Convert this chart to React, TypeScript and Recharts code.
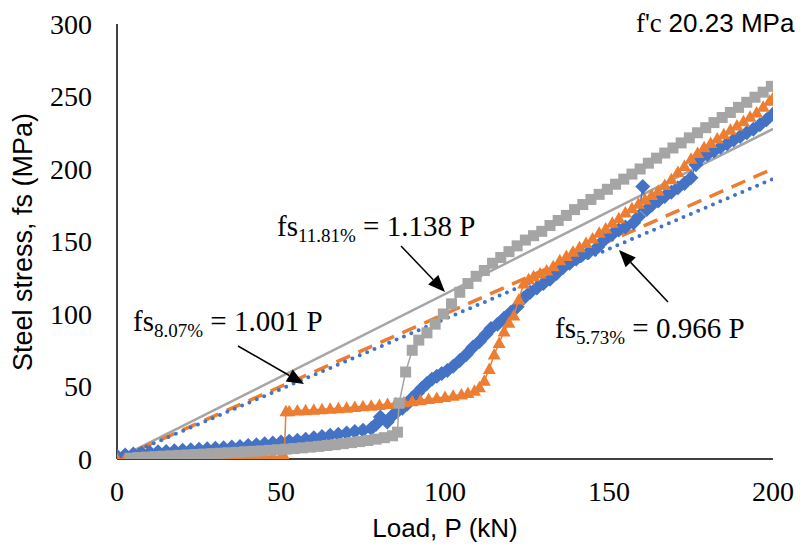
import React from "react";
import { ComposedChart, Scatter, Line, XAxis, YAxis } from "recharts";

const BLUE = "#4472C4";
const ORANGE = "#ED7D31";
const GRAY = "#A5A5A5";

const xTicks = [0, 50, 100, 150, 200];
const yTicks = [0, 50, 100, 150, 200, 250, 300];

// [Load P (kN), steel stress fs (MPa)]
const bluePts: [number, number][] = [
  [0, 2], [2.5, 2.8], [5, 3.4], [7.5, 4], [10, 4.5], [12.5, 5], [15, 5.2], [17.5, 5.7], [20, 6], [22.5, 6.3],
  [25, 6.7], [27.5, 7], [30, 7.5], [32.5, 7.8], [35, 8.3], [37.5, 8.7], [40, 9.3], [42.5, 9.8], [45, 10.5], [47.5, 11],
  [50, 11.7], [52.5, 12.2], [55, 13], [57.5, 13.7], [60, 14.6], [62.5, 15.5], [65, 16.3], [67.5, 17.1], [70, 18], [72.5, 18.9],
  [75, 19.8], [77.5, 21], [79, 24], [80.3, 29], [82.4, 25.5], [84, 30], [85.5, 33], [87, 35], [88.5, 38], [90, 42],
  [91.6, 45.5], [93, 49], [94.5, 52], [96, 55], [97.5, 57], [99, 59], [100.7, 61], [102.5, 64], [104.5, 68], [106.5, 72],
  [108.5, 77], [110.5, 81], [112.5, 86], [114, 90], [116, 93], [118, 97], [120, 101], [122, 105], [124, 111], [126, 115],
  [128, 118], [130, 121], [132, 124], [134, 128], [136, 132], [138, 135], [140, 138], [142, 141], [144, 143], [146.5, 146],
  [148.5, 151], [151, 155], [153, 158], [155, 160], [157.5, 163], [159, 167], [160.3, 188], [161.5, 172], [163, 175], [165, 178],
  [167, 181], [169, 184], [171, 187], [173, 190], [175, 194], [176.5, 203], [178, 208], [180, 210], [182, 212.5], [184, 215],
  [186, 217.5], [188, 220], [190, 222.5], [192, 225], [194, 227.5], [196, 230.5], [198, 234], [200, 238],
];

const orangePts: [number, number][] = [
  [0, 0], [2.5, 0.2], [5, 0.3], [7.5, 0.5], [10, 0.6], [12.5, 0.6], [15, 0.8], [17.5, 0.9], [20, 1], [22.5, 1.1],
  [25, 1.2], [27.5, 1.2], [30, 1.3], [32.5, 1.4], [35, 1.5], [37.5, 1.5], [40, 1.6], [42.5, 1.7], [45, 1.8], [47.5, 1.8],
  [50, 1.9], [51, 2], [51.5, 33], [52.5, 33], [55, 33.4], [57.5, 33.7], [60, 34], [62.5, 34.3], [65, 34.7], [67.5, 35],
  [70, 35.4], [72.5, 35.8], [75, 36.3], [77.5, 36.8], [80, 37.3], [82.5, 37.9], [85, 38.5], [87.5, 39.1], [90, 39.8], [92.5, 40.5],
  [95, 41.3], [97.5, 42], [100, 42.8], [102.5, 43.6], [105, 44.5], [107, 45.5], [109, 47], [110.5, 49.5], [112, 54], [113.5, 62],
  [115, 72], [116.5, 80], [118, 88], [119.5, 94], [121, 99], [122.5, 110], [124, 121], [125.5, 124], [127, 126], [129, 128],
  [131, 130], [133, 133], [135, 137], [137, 140], [139, 143], [141, 146], [143, 149], [145, 152], [147, 156], [149, 159],
  [151, 163], [153, 166], [155, 170], [157, 173], [159, 176], [161, 179], [163, 182], [165, 185], [167, 189], [169, 193],
  [171, 198], [173, 202], [175, 207], [177, 211], [179, 215], [181, 218], [183, 221], [185, 224], [187, 227], [189, 230],
  [191, 233], [193, 236], [195, 239], [197, 243], [199, 247], [200, 249],
];

const grayPts: [number, number][] = [
  [4, 0.5], [6.5, 1], [9, 1.3], [11.5, 1.6], [14, 1.9], [16.5, 2.2], [19, 2.5], [21.5, 2.8], [24, 3.1], [26.5, 3.4],
  [29, 3.7], [31.5, 4], [34, 4.3], [36.5, 4.6], [39, 5], [41.5, 5.3], [44, 5.6], [46.5, 6], [49, 6.4], [51.5, 6.8],
  [54, 7.2], [56.5, 7.7], [59, 8.2], [61.5, 8.7], [64, 9.3], [66.5, 9.9], [69, 10.6], [71.5, 11.3], [74, 12], [76.5, 12.8],
  [79, 13.7], [81.5, 14.7], [84, 16], [85.5, 18.5], [86, 38.5], [88, 60], [90, 75], [92, 82], [94.5, 87], [97, 93],
  [99.5, 100], [102, 107], [104.5, 115], [107, 121], [109.5, 126], [112, 130], [114.5, 135], [117, 139], [119.5, 143], [122, 147],
  [124.5, 151], [127, 154], [129.5, 157], [132, 161], [134.5, 164.5], [137, 168], [139.5, 172], [142, 175.5], [144.5, 179], [147, 182.5],
  [149.5, 186], [152, 189.5], [154.5, 193], [157, 196.5], [159.5, 200], [162, 204], [164.5, 207.5], [167, 211], [169.5, 214.5], [172, 218],
  [174.5, 221.5], [177, 225], [179.5, 228.5], [182, 232], [184.5, 235.5], [187, 239], [189.5, 242.5], [192, 246], [194.5, 249.5], [197, 253],
  [199.5, 257],
];

// trend lines fs = k P, endpoints at P = 0 and P = 200
const trendGray: [number, number][] = [[0, 0], [200, 227.6]];
const trendOrange: [number, number][] = [[0, 0], [200, 200.2]];
const trendBlue: [number, number][] = [[0, 0], [200, 193.2]];

const toRows = (pts: [number, number][]) => pts.map(([x, y]) => ({ x, y }));

const SERIF = "'Times New Roman', 'Liberation Serif', serif";
const SANS = "Arial, 'Liberation Sans', sans-serif";

const DiamondShape = (p: any) => {
  const { cx, cy } = p;
  const r = 7.5;
  return <path d={`M${cx},${cy - r}L${cx + r},${cy}L${cx},${cy + r}L${cx - r},${cy}Z`} fill={BLUE} />;
};
const TriangleShape = (p: any) => {
  const { cx, cy } = p;
  return <path d={`M${cx},${cy - 6.5}L${cx + 6.5},${cy + 5}L${cx - 6.5},${cy + 5}Z`} fill={ORANGE} />;
};
const SquareShape = (p: any) => {
  const { cx, cy } = p;
  return <rect x={cx - 5.5} y={cy - 5.5} width={11} height={11} fill={GRAY} />;
};

const Arrow = ({ x1, y1, x2, y2 }: { x1: number; y1: number; x2: number; y2: number }) => {
  const dx = x2 - x1;
  const dy = y2 - y1;
  const len = Math.sqrt(dx * dx + dy * dy);
  const ux = dx / len;
  const uy = dy / len;
  const hl = 17;
  const hw = 7;
  const bx = x2 - ux * hl;
  const by = y2 - uy * hl;
  return (
    <g>
      <line x1={x1} y1={y1} x2={bx} y2={by} stroke="#000" strokeWidth={1.5} />
      <path d={`M${x2},${y2}L${bx - uy * hw},${by + ux * hw}L${bx + uy * hw},${by - ux * hw}Z`} fill="#000" />
    </g>
  );
};

const Eq = ({ x, y, sub, rhs }: { x: number; y: number; sub: string; rhs: string }) => (
  <text x={x} y={y} fontFamily={SERIF} fontSize={29} fill="#000">
    fs
    <tspan fontSize={19} dy={6}>{sub}</tspan>
    <tspan dy={-6}>{` = ${rhs}`}</tspan>
  </text>
);

export default function App() {
  return (
    <div style={{ position: "absolute", left: 0, top: 0, width: 805, height: 549, background: "#fff" }}>
      <ComposedChart width={805} height={549} margin={{ top: 24, right: 32, bottom: 30, left: 0 }}>
        <XAxis
          type="number"
          dataKey="x"
          domain={[0, 200]}
          ticks={xTicks}
          allowDataOverflow
          axisLine={{ stroke: "#000", strokeWidth: 1.5 }}
          tickLine={false}
          tickSize={0}
          tickMargin={22}
          height={60}
          tick={{ fontFamily: SERIF, fontSize: 28, fill: "#000" }}
        />
        <YAxis
          type="number"
          dataKey="y"
          domain={[0, 300]}
          ticks={yTicks}
          allowDataOverflow
          axisLine={{ stroke: "#000", strokeWidth: 1.5 }}
          tickLine={false}
          tickSize={0}
          tickMargin={25}
          width={117}
          tick={{ fontFamily: SERIF, fontSize: 28, fill: "#000" }}
        />
        <Scatter
          data={toRows(bluePts)}
          line={{ stroke: BLUE, strokeWidth: 1.5 }}
          shape={DiamondShape}
          isAnimationActive={false}
        />
        <Scatter
          data={toRows(orangePts)}
          line={{ stroke: ORANGE, strokeWidth: 1.5 }}
          shape={TriangleShape}
          isAnimationActive={false}
        />
        <Scatter
          data={toRows(grayPts)}
          line={{ stroke: GRAY, strokeWidth: 1.5 }}
          shape={SquareShape}
          isAnimationActive={false}
        />
        <Line data={toRows(trendGray)} dataKey="y" stroke={GRAY} strokeWidth={2.5} dot={false} isAnimationActive={false} />
        <Line
          data={toRows(trendOrange)}
          dataKey="y"
          stroke={ORANGE}
          strokeWidth={3.5}
          strokeDasharray="15 9"
          dot={false}
          isAnimationActive={false}
        />
        <Line
          data={toRows(trendBlue)}
          dataKey="y"
          stroke={BLUE}
          strokeWidth={4}
          strokeDasharray="0 8"
          strokeLinecap="round"
          dot={false}
          isAnimationActive={false}
        />
      </ComposedChart>
      <svg width={805} height={549} style={{ position: "absolute", left: 0, top: 0, pointerEvents: "none" }}>
        <Eq x={277} y={236} sub="11.81%" rhs="1.138 P" />
        <Arrow x1={401} y1={246} x2={445} y2={292} />
        <Eq x={133} y={331} sub="8.07%" rhs="1.001 P" />
        <Arrow x1={238} y1={346} x2={304} y2={384} />
        <Eq x={555} y={338} sub="5.73%" rhs="0.966 P" />
        <Arrow x1={668} y1={302} x2={619} y2={250} />
        <text x={636} y={32} fill="#000">
          <tspan fontFamily={SERIF} fontSize={27}>f'c </tspan>
          <tspan fontFamily={SANS} fontSize={26}>20.23 MPa</tspan>
        </text>
        <text x={445} y={537} textAnchor="middle" fontFamily={SANS} fontSize={26} fill="#000">
          Load, P (kN)
        </text>
        <text transform="translate(32,242) rotate(-90)" textAnchor="middle" fontFamily={SANS} fontSize={27} fill="#000">
          Steel stress, fs (MPa)
        </text>
      </svg>
    </div>
  );
}
